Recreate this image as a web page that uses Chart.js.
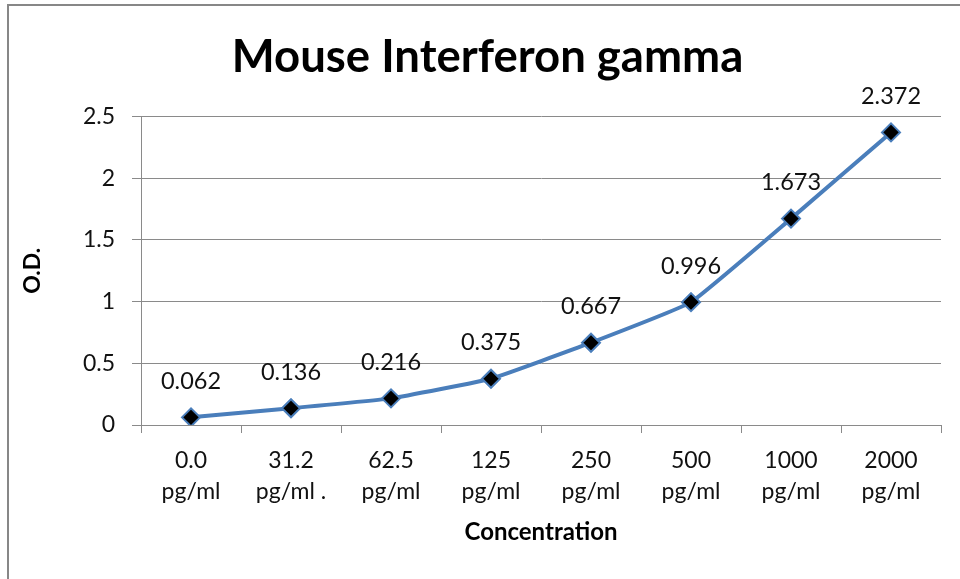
<!DOCTYPE html>
<html>
<head>
<meta charset="utf-8">
<script src="https://cdn.jsdelivr.net/npm/chart.js@4"></script>
<style>
  html, body { margin: 0; padding: 0; background: #fff; }
  #wrap { position: relative; width: 960px; height: 579px; overflow: hidden; }
  #frame { position: absolute; left: 7px; top: 4px; right: -10px; bottom: -10px; border-left: 2px solid #878787; border-top: 2px solid #878787; pointer-events: none; }
  canvas { position: absolute; left: 0; top: 0; }
</style>
</head>
<body>
<div id="wrap">
  <canvas id="c" width="960" height="579"></canvas>
  <div id="frame"></div>
</div>
<script>
// ---- data ----
const concentrations = ['0.0', '31.2', '62.5', '125', '250', '500', '1000', '2000'];
const units = ['pg/ml', 'pg/ml .', 'pg/ml', 'pg/ml', 'pg/ml', 'pg/ml', 'pg/ml', 'pg/ml'];
const odValues = [0.062, 0.136, 0.216, 0.375, 0.667, 0.996, 1.673, 2.372];
const yTicks = [0, 0.5, 1, 1.5, 2, 2.5];
const titleText = 'Mouse Interferon gamma';
const xTitle = 'Concentration';
const yTitle = 'O.D.';

const labels = concentrations.map((c, i) => [c, units[i]]);
const FONT = 'Lato, "Open Sans", sans-serif';
const GRID = '#8a8a8a';

const dataLabels = {
  id: 'dataLabels',
  afterDatasetsDraw(chart) {
    const ctx = chart.ctx;
    const meta = chart.getDatasetMeta(0);
    ctx.save();
    ctx.font = '23.5px ' + FONT;
    ctx.fillStyle = '#111';
    ctx.textAlign = 'center';
    ctx.textBaseline = 'middle';
    meta.data.forEach((pt, i) => {
      ctx.fillText(String(odValues[i]), pt.x, pt.y - 36);
    });
    ctx.restore();
  }
};

new Chart(document.getElementById('c'), {
  type: 'line',
  data: {
    labels: labels,
    datasets: [{
      data: odValues,
      borderColor: '#4a7ebb',
      borderWidth: 4,
      tension: 0.1,
      pointStyle: 'rectRot',
      pointRadius: 9,
      pointHoverRadius: 9,
      pointBackgroundColor: '#000',
      pointBorderColor: '#4a7ebb',
      pointBorderWidth: 2,
      fill: false
    }]
  },
  options: {
    responsive: false,
    devicePixelRatio: 1,
    animation: false,
    layout: { padding: { top: 0, left: 34, right: 19, bottom: 0 } },
    plugins: {
      legend: { display: false },
      tooltip: { enabled: false },
      title: {
        display: true,
        text: titleText,
        color: '#000',
        font: { family: FONT, size: 45.5, weight: 'bold', lineHeight: 1.2 },
        padding: { top: 30, bottom: 32 }
      }
    },
    scales: {
      x: {
        type: 'category',
        offset: true,
        grid: { display: true, drawOnChartArea: false, drawTicks: true, tickLength: 8, offset: true, color: GRID, lineWidth: 1 },
        border: { display: true, color: GRID, width: 1 },
        ticks: { color: '#111', font: { family: FONT, size: 23, lineHeight: 1.35 }, padding: 12, maxRotation: 0, autoSkip: false },
        title: { display: true, text: xTitle, color: '#000', font: { family: FONT, size: 24, weight: 'bold', lineHeight: 1.2 }, padding: { top: 0, bottom: 32 } },
        afterFit(scale) { scale.height = 154; }
      },
      y: {
        min: 0,
        max: 2.5,
        afterBuildTicks(scale) { scale.ticks = yTicks.map(v => ({ value: v })); },
        grid: { display: true, drawTicks: true, tickLength: 9, color: GRID, lineWidth: 1 },
        border: { display: true, color: GRID, width: 1 },
        ticks: { color: '#111', font: { family: FONT, size: 23 }, padding: 17, callback: v => String(v) },
        title: { display: true, text: yTitle, color: '#000', font: { family: FONT, size: 23, weight: 'bold', lineHeight: 1.2 }, padding: { top: -14.8, bottom: 0 } },
        afterFit(scale) { scale.width = 107; }
      }
    }
  },
  plugins: [dataLabels]
});
</script>
</body>
</html>
